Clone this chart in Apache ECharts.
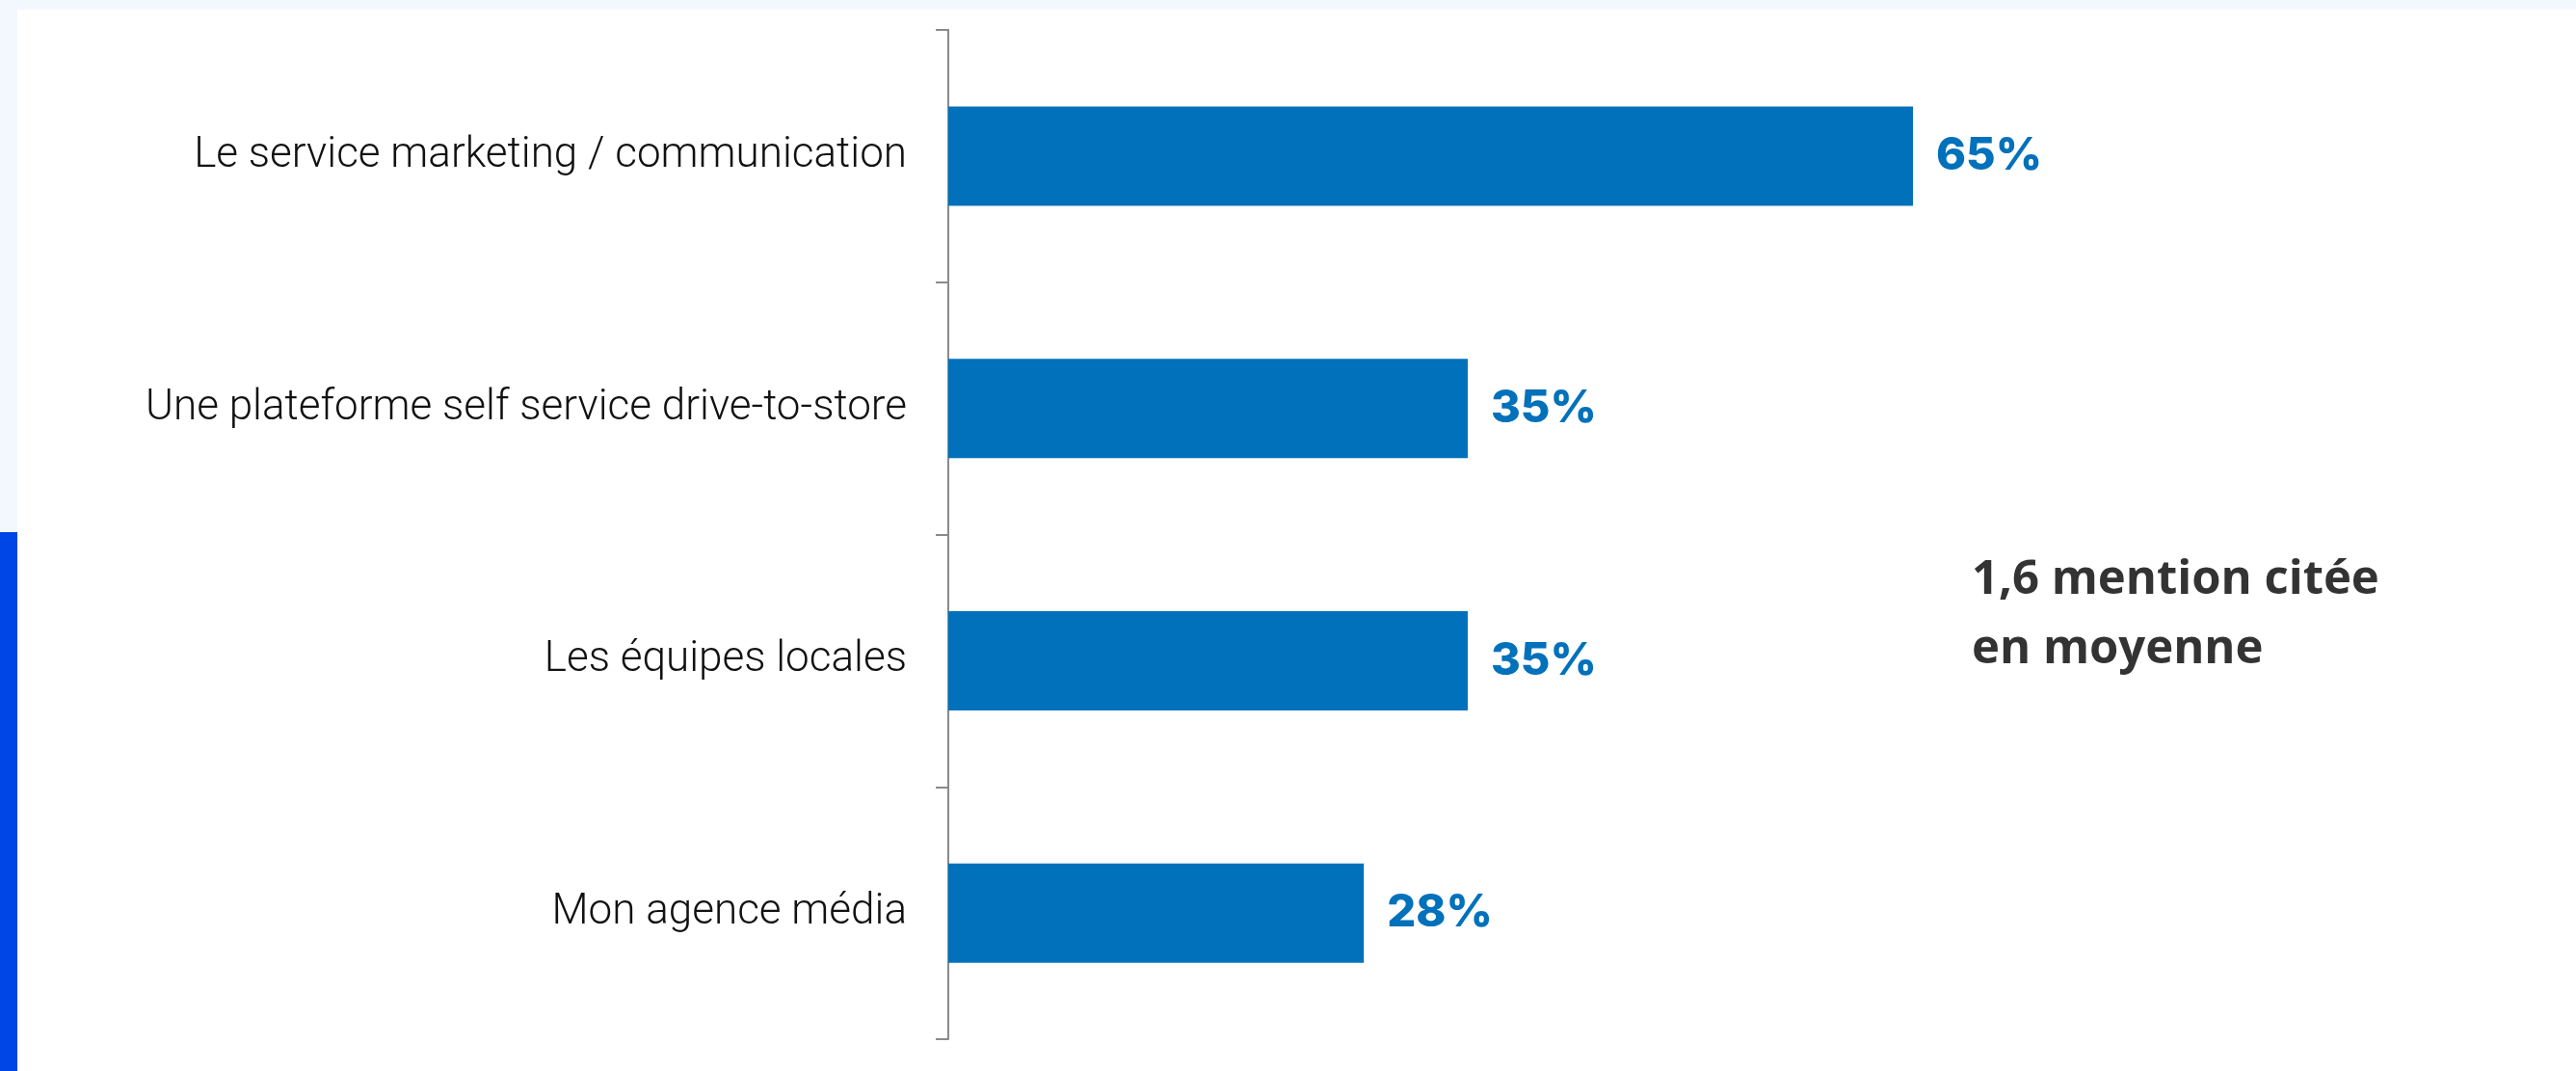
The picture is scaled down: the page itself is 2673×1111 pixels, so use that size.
<!DOCTYPE html>
<html>
<head>
<meta charset="utf-8">
<script src="https://cdn.jsdelivr.net/npm/echarts@6/dist/echarts.min.js"></script>
<style>
html, body { margin: 0; padding: 0; background: #f3f8fe; }
#chart { width: 2673px; height: 1111px; }
</style>
</head>
<body>
<div id="chart"></div>
<script>
// catégories et valeurs (%)
var categories = [
    'Le service marketing / communication',
    'Une plateforme self service drive-to-store',
    'Les équipes locales',
    'Mon agence média'
];
var values = [65, 35, 35, 28];
var noteLines = ['1,6 mention citée', 'en moyenne'];

var chart = echarts.init(document.getElementById('chart'));
var option = {
    backgroundColor: '#f3f8fe',
    animation: false,
    graphic: [
        // panneau blanc
        { type: 'rect', shape: { x: 18, y: 10, width: 2655, height: 1101 }, style: { fill: '#ffffff' }, z: -10 },
        // bande bleue à gauche
        { type: 'rect', shape: { x: 0, y: 552, width: 18, height: 559 }, style: { fill: '#0045e6' }, z: -10 },
        {
            type: 'text',
            left: 2046,
            top: 566,
            style: {
                text: noteLines.join('\n'),
                fill: '#333333',
                font: 'bold 49px "Open Sans"',
                lineHeight: 72
            }
        }
    ],
    grid: {
        left: 984,
        top: 31,
        width: 1540,
        height: 1047
    },
    xAxis: {
        type: 'value',
        min: 0,
        max: 100,
        show: false
    },
    yAxis: {
        type: 'category',
        data: categories,
        inverse: true,
        axisLine: {
            show: true,
            lineStyle: { color: '#8a8a8a', width: 2 }
        },
        axisTick: {
            show: true,
            length: 13,
            lineStyle: { color: '#8a8a8a', width: 2 }
        },
        axisLabel: {
            margin: 43,
            color: '#111111',
            fontFamily: 'Roboto',
            fontWeight: 300,
            fontSize: 44
        }
    },
    series: [{
        type: 'bar',
        data: values,
        barWidth: 103,
        itemStyle: { color: '#0071ba' },
        label: {
            show: true,
            position: 'right',
            distance: 24,
            formatter: '{c}%',
            color: '#0071ba',
            fontFamily: 'Inter',
            fontWeight: 800,
            fontSize: 47
        }
    }]
};
chart.setOption(option);
</script>
</body>
</html>
